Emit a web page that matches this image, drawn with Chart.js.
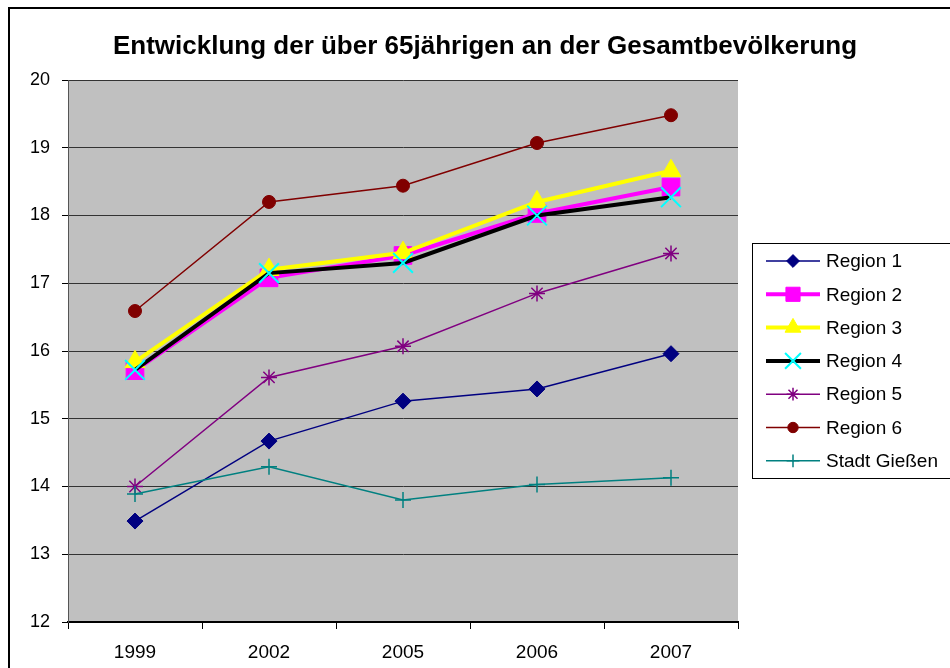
<!DOCTYPE html>
<html>
<head>
<meta charset="utf-8">
<script src="https://cdn.jsdelivr.net/npm/chart.js@4.4.1/dist/chart.umd.min.js"></script>
<style>
  html, body { margin: 0; padding: 0; background: #fff; }
  #wrap { width: 950px; height: 668px; position: relative; }
</style>
</head>
<body>
<div id="wrap"><canvas id="chart" width="950" height="668"></canvas></div>
<script>
const titleText = 'Entwicklung der über 65jährigen an der Gesamtbevölkerung';
const years = ['1999', '2002', '2005', '2006', '2007'];
const seriesNames = ['Region 1', 'Region 2', 'Region 3', 'Region 4', 'Region 5', 'Region 6', 'Stadt Gießen'];

const region1 = [13.49, 14.67, 15.26, 15.44, 15.96];
const region2 = [15.71, 17.08, 17.41, 18.03, 18.42];
const region3 = [15.84, 17.20, 17.45, 18.20, 18.66];
const region4 = [15.72, 17.15, 17.30, 18.00, 18.27];
const region5 = [14.00, 15.61, 16.07, 16.85, 17.44];
const region6 = [16.59, 18.20, 18.44, 19.07, 19.48];
const giessen = [13.89, 14.29, 13.80, 14.03, 14.13];

const yMin = 12, yMax = 20, yStep = 1;

// line colour, marker colour, line width, marker shape
const styles = [
    { line: '#000080', point: '#000080', width: 1.5, pointStyle: 'rectRot', radius: 8, pbw: 1 },
    { line: '#FF00FF', point: '#FF00FF', width: 4, pointStyle: 'rect', radius: 12.5, pbw: 1 },
    { line: '#FFFF00', point: '#FFFF00', width: 4, pointStyle: 'triangle', radius: 11.5, pbw: 1 },
    { line: '#000000', point: '#00FFFF', width: 4, pointStyle: 'crossRot', radius: 14, pbw: 2 },
    { line: '#800080', point: '#800080', width: 1.5, pointStyle: 'star', radius: 8, pbw: 1.5 },
    { line: '#800000', point: '#800000', width: 1.5, pointStyle: 'circle', radius: 6.5, pbw: 1 },
    { line: '#008080', point: '#008080', width: 1.5, pointStyle: 'cross', radius: 8, pbw: 1.5 }
];

const values = [region1, region2, region3, region4, region5, region6, giessen];

const datasets = values.map((v, i) => ({
    label: seriesNames[i],
    data: v,
    borderColor: styles[i].line,
    borderWidth: styles[i].width,
    backgroundColor: styles[i].point,
    pointBackgroundColor: styles[i].point,
    pointBorderColor: styles[i].point,
    pointBorderWidth: styles[i].pbw,
    pointStyle: styles[i].pointStyle,
    pointRadius: styles[i].radius,
    pointHoverRadius: styles[i].radius,
    tension: 0,
    fill: false,
    order: values.length - i
}));

const font = "'Liberation Sans', Arial, sans-serif";

const frame = {
    id: 'frame',
    beforeDraw(chart) {
        const { ctx, chartArea: a } = chart;
        ctx.save();
        ctx.fillStyle = '#C0C0C0';
        ctx.fillRect(a.left, a.top, a.right - a.left, a.bottom - a.top);
        ctx.restore();
    },
    afterDraw(chart) {
        const ctx = chart.ctx;
        ctx.save();
        // outer border (top and left only visible)
        ctx.strokeStyle = '#000';
        ctx.lineWidth = 2;
        ctx.beginPath();
        ctx.moveTo(9, 700);
        ctx.lineTo(9, 8);
        ctx.lineTo(960, 8);
        ctx.stroke();

        // title
        ctx.fillStyle = '#000';
        ctx.font = 'bold 26px ' + font;
        ctx.textAlign = 'center';
        ctx.textBaseline = 'middle';
        ctx.fillText(titleText, 485, 47);

        // legend
        const lx = 752, ly = 243, lw = 210, lh = 235;
        ctx.fillStyle = '#fff';
        ctx.fillRect(lx, ly, lw, lh);
        ctx.strokeStyle = '#000';
        ctx.lineWidth = 1;
        ctx.strokeRect(lx + 0.5, ly + 0.5, lw, lh);
        ctx.font = '19px ' + font;
        ctx.textAlign = 'left';
        chart.data.datasets.forEach((ds, i) => {
            const y = 261 + i * 33.3;
            ctx.strokeStyle = styles[i].line;
            ctx.lineWidth = styles[i].width;
            ctx.beginPath();
            ctx.moveTo(766, y);
            ctx.lineTo(820, y);
            ctx.stroke();
            ctx.fillStyle = styles[i].point;
            ctx.strokeStyle = styles[i].point;
            ctx.lineWidth = styles[i].pbw;
            Chart.helpers.drawPoint(ctx, {
                pointStyle: styles[i].pointStyle,
                radius: styles[i].radius * 0.8,
                borderWidth: styles[i].pbw,
                rotation: 0
            }, 793, y);
            ctx.fillStyle = '#000';
            ctx.fillText(ds.label, 826, y + 1);
        });
        ctx.restore();
    }
};

new Chart(document.getElementById('chart'), {
    type: 'line',
    data: { labels: years, datasets: datasets },
    options: {
        responsive: false,
        animation: false,
        layout: { padding: { left: 0, right: 212, top: 80, bottom: 0 } },
        plugins: {
            legend: { display: false },
            title: { display: false },
            tooltip: { enabled: false }
        },
        scales: {
            x: {
                offset: true,
                afterFit(scale) { scale.height = 46; },
                grid: {
                    offset: true,
                    drawOnChartArea: false,
                    drawTicks: true,
                    tickLength: 7,
                    color: '#000'
                },
                border: { color: '#000', width: 2 },
                ticks: {
                    color: '#000',
                    font: { family: font, size: 19 },
                    padding: 12,
                    maxRotation: 0
                }
            },
            y: {
                min: yMin,
                max: yMax,
                afterFit(scale) { scale.width = 68; },
                grid: {
                    color: '#333',
                    lineWidth: 1,
                    drawTicks: true,
                    tickLength: 6,
                    tickColor: '#000'
                },
                border: { color: '#555', width: 1 },
                ticks: {
                    stepSize: yStep,
                    color: '#000',
                    font: { family: font, size: 18 },
                    padding: 12
                }
            }
        }
    },
    plugins: [frame]
});
</script>
</body>
</html>
